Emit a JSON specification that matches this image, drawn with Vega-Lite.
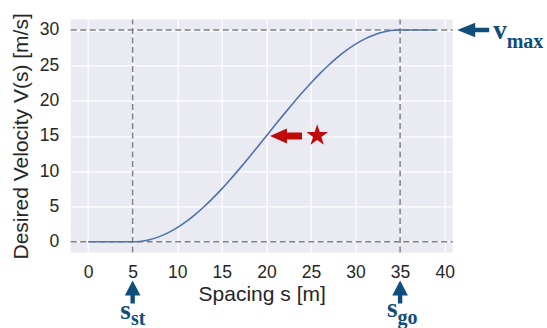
{
  "$schema": "https://vega.github.io/schema/vega-lite/v6.json",
  "width": 382,
  "height": 233,
  "autosize": "none",
  "padding": {"left": 70.7, "top": 19.4, "right": 94.3, "bottom": 75.6},
  "background": "white",
  "config": {
    "view": {"fill": "#EAEAF2", "stroke": null},
    "axis": {
      "domain": false,
      "ticks": false,
      "gridColor": "white",
      "gridWidth": 1.2,
      "labelFont": "Liberation Sans",
      "labelFontSize": 17.5,
      "labelColor": "#262626",
      "labelPadding": 11,
      "titleFont": "Liberation Sans",
      "titleFontSize": 21,
      "titleFontWeight": "normal",
      "titleColor": "#262626"
    }
  },
  "datasets": {
    "curve": [
      {"s": 0, "v": 0}, {"s": 1, "v": 0}, {"s": 2, "v": 0}, {"s": 3, "v": 0}, {"s": 4, "v": 0},
      {"s": 5, "v": 0}, {"s": 6, "v": 0.0822}, {"s": 7, "v": 0.3278}, {"s": 8, "v": 0.7341},
      {"s": 9, "v": 1.2968}, {"s": 10, "v": 2.0096}, {"s": 11, "v": 2.8647}, {"s": 12, "v": 3.8529},
      {"s": 13, "v": 4.963}, {"s": 14, "v": 6.1832}, {"s": 15, "v": 7.5}, {"s": 16, "v": 8.899},
      {"s": 17, "v": 10.3647}, {"s": 18, "v": 11.8813}, {"s": 19, "v": 13.432}, {"s": 20, "v": 15},
      {"s": 21, "v": 16.568}, {"s": 22, "v": 18.1187}, {"s": 23, "v": 19.6353}, {"s": 24, "v": 21.101},
      {"s": 25, "v": 22.5}, {"s": 26, "v": 23.8168}, {"s": 27, "v": 25.037}, {"s": 28, "v": 26.1471},
      {"s": 29, "v": 27.1353}, {"s": 30, "v": 27.9904}, {"s": 31, "v": 28.7032}, {"s": 32, "v": 29.2659},
      {"s": 33, "v": 29.6722}, {"s": 34, "v": 29.9178}, {"s": 35, "v": 30}, {"s": 36, "v": 30},
      {"s": 37, "v": 30}, {"s": 38, "v": 30}, {"s": 39, "v": 30}
    ],
    "vlines": [{"s": 5, "v": -1.5, "v2": 31.5}, {"s": 35, "v": -1.5, "v2": 31.5}],
    "hlines": [{"s": -1.95, "s2": 40.9, "v": 0}, {"s": -1.95, "s2": 40.9, "v": 30}],
    "marks": [
      {"item": "redArrow", "s": 22.2, "v": 15},
      {"item": "star", "s": 25.7, "v": 15.05},
      {"item": "upArrow", "s": 5, "v": -7.1},
      {"item": "upArrow", "s": 35, "v": -7.1},
      {"item": "vmaxArrow", "s": 43.2, "v": 30}
    ],
    "mainLabels": [
      {"s": 4.8, "v": -10.95, "label": "s"},
      {"s": 34.72, "v": -10.7, "label": "s"},
      {"s": 46.95, "v": 28.71, "label": "v"}
    ],
    "subLabels": [
      {"s": 4.8, "v": -11.8, "label": "st"},
      {"s": 34.72, "v": -11.6, "label": "go"},
      {"s": 46.95, "v": 27.44, "label": "max"}
    ]
  },
  "encoding": {
    "x": {
      "field": "s", "type": "quantitative",
      "scale": {"domain": [-1.95, 40.9], "nice": false, "zero": false},
      "axis": {"values": [0, 5, 10, 15, 20, 25, 30, 35, 40], "title": "Spacing s [m]", "titlePadding": 3}
    },
    "y": {
      "field": "v", "type": "quantitative",
      "scale": {"domain": [-1.5, 31.5], "nice": false, "zero": false},
      "axis": {"values": [0, 5, 10, 15, 20, 25, 30], "title": "Desired Velocity V(s) [m/s]", "titlePadding": 8, "labelPadding": 12}
    }
  },
  "layer": [
    {
      "data": {"name": "vlines"},
      "mark": {"type": "rule", "color": "#808080", "strokeWidth": 1.5, "strokeDash": [6, 3.5]},
      "encoding": {"y2": {"field": "v2"}}
    },
    {
      "data": {"name": "hlines"},
      "mark": {"type": "rule", "color": "#808080", "strokeWidth": 1.5, "strokeDash": [6, 3.5]},
      "encoding": {"x2": {"field": "s2"}}
    },
    {
      "data": {"name": "curve"},
      "mark": {"type": "line", "color": "#4c72b0", "strokeWidth": 1.6, "interpolate": "monotone"},
      "encoding": {}
    },
    {
      "data": {"name": "marks"},
      "transform": [{"filter": "datum.item === 'redArrow'"}],
      "mark": {"type": "point", "filled": true, "opacity": 1, "color": "#c00a0a", "strokeWidth": 0, "size": 1024,
        "shape": "M-1,0L0.06,-0.47L0.06,-0.22L1,-0.22L1,0.22L0.06,0.22L0.06,0.47Z"}
    },
    {
      "data": {"name": "marks"},
      "transform": [{"filter": "datum.item === 'star'"}],
      "mark": {"type": "point", "filled": true, "opacity": 1, "color": "#c00a0a", "strokeWidth": 0, "size": 520,
        "shape": "M0,-1L0.2245,-0.309L0.9511,-0.309L0.3633,0.118L0.5878,0.809L0,0.382L-0.5878,0.809L-0.3633,0.118L-0.9511,-0.309L-0.2245,-0.309Z"}
    },
    {
      "data": {"name": "marks"},
      "transform": [{"filter": "datum.item === 'upArrow'"}],
      "mark": {"type": "point", "filled": true, "opacity": 1, "color": "#0f4d7a", "strokeWidth": 0, "size": 529, "angle": 90,
        "shape": "M-1,0L0.3,-0.68L0.3,-0.19L1,-0.19L1,0.19L0.3,0.19L0.3,0.68Z"}
    },
    {
      "data": {"name": "marks"},
      "transform": [{"filter": "datum.item === 'vmaxArrow'"}],
      "mark": {"type": "point", "filled": true, "opacity": 1, "color": "#0f4d7a", "strokeWidth": 0, "size": 1024,
        "shape": "M-1,0L0.125,-0.45L0.125,-0.14L1,-0.14L1,0.14L0.125,0.14L0.125,0.45Z"}
    },
    {
      "data": {"name": "mainLabels"},
      "mark": {"type": "text", "font": "Liberation Serif", "fontWeight": "bold", "fontSize": 27, "color": "#0f4d7a", "align": "right", "baseline": "alphabetic"},
      "encoding": {"text": {"field": "label"}}
    },
    {
      "data": {"name": "subLabels"},
      "mark": {"type": "text", "font": "Liberation Serif", "fontWeight": "bold", "fontSize": 20, "color": "#0f4d7a", "align": "left", "baseline": "alphabetic"},
      "encoding": {"text": {"field": "label"}}
    }
  ]
}
